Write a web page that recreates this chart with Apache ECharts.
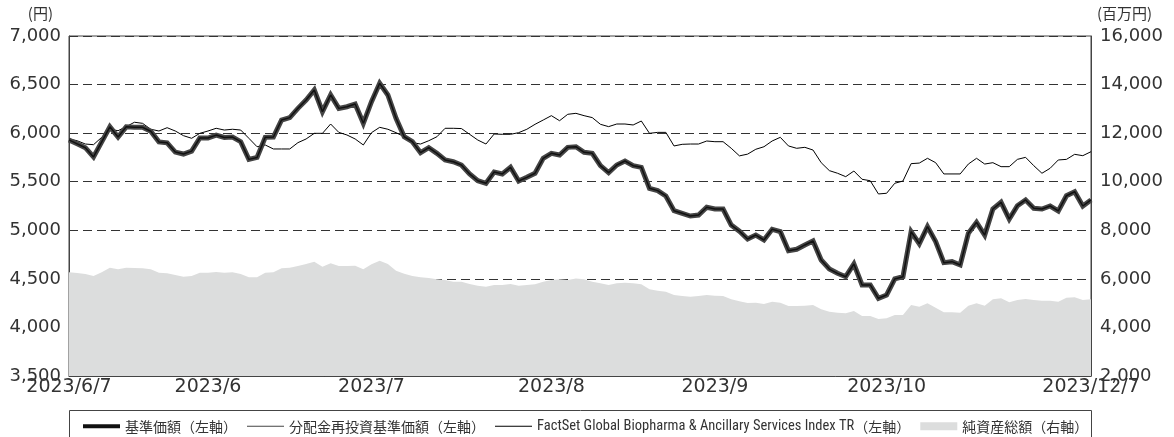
<!DOCTYPE html>
<html>
<head>
<meta charset="utf-8">
<script src="https://cdn.jsdelivr.net/npm/echarts@6/dist/echarts.min.js"></script>
<style>
  html, body { margin: 0; padding: 0; background: #fff; }
  #chart { width: 1174px; height: 437px; }
</style>
</head>
<body>
<div id="chart"></div>
<script>
// 基準価額（円）
const nav = [5930, 5890, 5850, 5755, 5910, 6065, 5960, 6065, 6060, 6060,
  6020, 5910, 5900, 5805, 5785, 5815, 5950, 5950, 5980, 5955,
  5960, 5912, 5730, 5750, 5957, 5960, 6135, 6160, 6255, 6341,
  6444, 6221, 6393, 6255, 6272, 6300, 6101, 6324, 6513, 6393,
  6153, 5963, 5912, 5799, 5850, 5792, 5724, 5706, 5672, 5580,
  5510, 5484, 5600, 5580, 5648, 5507, 5545, 5587, 5741, 5792,
  5775, 5854, 5860, 5803, 5792, 5665, 5593, 5672, 5713, 5665,
  5648, 5432, 5408, 5353, 5202, 5175, 5147, 5157, 5237, 5219,
  5219, 5054, 4990, 4910, 4951, 4900, 5010, 4986, 4790, 4804,
  4849, 4890, 4694, 4601, 4557, 4522, 4653, 4437, 4437, 4300,
  4334, 4499, 4522, 4985, 4862, 5037, 4883, 4667, 4677, 4643,
  4969, 5082, 4951, 5219, 5288, 5116, 5253, 5312, 5226, 5219,
  5250, 5199, 5356, 5397, 5250, 5312]

// 分配金再投資基準価額（分配なしのため基準価額と同じ）
const reinvestNav = nav.slice()

// FactSet Global Biopharma & Ancillary Services Index TR
const benchmark = [5940, 5922, 5888, 5881, 5957, 6040, 6025, 6067, 6112, 6101,
  6040, 6022, 6056, 6022, 5974, 5947, 5998, 6022, 6050, 6032,
  6040, 6032, 5947, 5860, 5878, 5837, 5837, 5837, 5902, 5940,
  5998, 5998, 6094, 6008, 5981, 5940, 5878, 6005, 6060, 6040,
  6005, 5963, 5902, 5888, 5922, 5963, 6050, 6050, 6047, 5988,
  5929, 5888, 5991, 5988, 5988, 6005, 6040, 6091, 6135, 6180,
  6128, 6194, 6204, 6180, 6160, 6091, 6067, 6094, 6094, 6084,
  6125, 5998, 6008, 6008, 5868, 5885, 5888, 5888, 5919, 5912,
  5912, 5844, 5766, 5784, 5834, 5860, 5919, 5957, 5868, 5844,
  5854, 5826, 5696, 5614, 5587, 5552, 5610, 5525, 5510, 5374,
  5381, 5484, 5507, 5686, 5692, 5741, 5696, 5580, 5580, 5580,
  5682, 5741, 5682, 5696, 5655, 5655, 5730, 5751, 5665, 5587,
  5638, 5724, 5730, 5782, 5768, 5809]

// 純資産総額（百万円）
const netAssets = [6269, 6240, 6199, 6117, 6269, 6460, 6393, 6460, 6446, 6433,
  6393, 6254, 6227, 6158, 6089, 6117, 6254, 6254, 6282, 6254,
  6269, 6199, 6062, 6062, 6254, 6269, 6433, 6460, 6529, 6611,
  6707, 6501, 6639, 6529, 6529, 6542, 6393, 6597, 6748, 6611,
  6336, 6213, 6117, 6062, 6034, 5981, 5952, 5884, 5884, 5787,
  5719, 5678, 5746, 5746, 5787, 5719, 5746, 5774, 5884, 5952,
  5981, 5952, 6010, 5986, 5884, 5816, 5746, 5816, 5843, 5816,
  5774, 5569, 5514, 5472, 5335, 5294, 5266, 5294, 5335, 5307,
  5294, 5157, 5073, 5006, 5019, 4964, 5060, 5019, 4881, 4881,
  4895, 4923, 4745, 4648, 4607, 4580, 4676, 4470, 4470, 4346,
  4374, 4511, 4511, 4923, 4854, 4993, 4813, 4621, 4621, 4607,
  4895, 4993, 4895, 5157, 5198, 5033, 5129, 5170, 5129, 5101,
  5101, 5060, 5225, 5239, 5129, 5157]

// x軸（営業日の並び）
const days = nav.map((v, i) => String(i))
const labelIdx = [0, 17, 37, 59, 79, 100, 125]
const labelText = ['2023/6/7', '2023/6', '2023/7', '2023/8', '2023/9', '2023/10', '2023/12/7']
const tickIdx = [17, 37, 59, 79, 100]

const names = ['基準価額（左軸）', '分配金再投資基準価額（左軸）',
  'FactSet Global Biopharma & Ancillary Services Index TR（左軸）', '純資産総額（右軸）']

const numFont = '"DejaVu Sans", "Liberation Sans", sans-serif'
const jpFont = '"Noto Sans CJK JP", sans-serif'
const narrowFont = '"Liberation Sans Narrow", "Roboto Condensed", "Noto Sans CJK JP", sans-serif'

let chart = echarts.init(document.getElementById('chart'))
let options = {
  animation: false,
  grid: {
    left: 69,
    right: 83,
    top: 36,
    bottom: 61,
    show: true,
    borderColor: '#444',
    borderWidth: 1
  },
  legend: {
    left: 83,
    top: 419,
    padding: 0,
    itemWidth: 37,
    itemHeight: 8,
    itemGap: 10,
    formatter: function (name) {
      // FactSetの英字部分は細めの書体
      if (name.indexOf('FactSet') === 0) {
        let p = name.indexOf('（')
        return '{n|' + name.slice(0, p) + '}{j|' + name.slice(p) + '}'
      }
      return '{j|' + name + '}'
    },
    textStyle: {
      fontFamily: jpFont,
      fontSize: 14,
      color: '#333',
      rich: {
        j: { fontFamily: jpFont, fontSize: 14, color: '#333' },
        n: { fontFamily: narrowFont, fontSize: 14.5, color: '#333' }
      }
    },
    data: [
      { name: names[0], icon: 'path://M0,0H37V4H0Z', itemStyle: { color: '#111', borderWidth: 0 } },
      { name: names[1], icon: 'path://M0,0H37V1.2H0Z', itemStyle: { color: '#444', borderWidth: 0 } },
      { name: names[2], icon: 'path://M0,0H37V1.2H0Z', itemStyle: { color: '#000', borderWidth: 0 } },
      { name: names[3], icon: 'path://M0,0H37V8H0Z', itemStyle: { color: '#dcdddd', borderWidth: 0 } }
    ]
  },
  graphic: [
    // 凡例の枠
    {
      type: 'rect',
      shape: { x: 69.5, y: 410.5, width: 1022, height: 40 },
      style: { fill: 'none', stroke: '#444', lineWidth: 1 },
      silent: true
    }
  ],
  xAxis: {
    type: 'category',
    boundaryGap: false,
    data: days,
    axisLine: { lineStyle: { color: '#444', width: 1 } },
    axisTick: {
      show: true,
      inside: true,
      length: 7,
      interval: (index) => tickIdx.indexOf(index) >= 0,
      lineStyle: { color: '#333' }
    },
    axisLabel: {
      interval: (index) => labelIdx.indexOf(index) >= 0,
      formatter: (value, index) => labelText[labelIdx.indexOf(index)],
      color: '#333',
      fontFamily: numFont,
      fontSize: 19,
      margin: 2,
      hideOverlap: false
    },
    splitLine: { show: false }
  },
  yAxis: [
    {
      type: 'value',
      min: 3500,
      max: 7000,
      interval: 500,
      name: '(円)',
      nameLocation: 'end',
      nameGap: 15,
      nameTextStyle: { fontFamily: jpFont, fontSize: 15, color: '#333', align: 'right', padding: [0, 16, 0, 0] },
      axisLine: { show: true, lineStyle: { color: '#444' } },
      axisTick: { show: false },
      axisLabel: {
        color: '#333',
        fontFamily: numFont,
        fontSize: 18,
        margin: 8,
        formatter: (v) => v.toLocaleString('en-US')
      },
      splitLine: {
        show: true,
        lineStyle: { color: '#333', type: [9, 5], width: 1 }
      }
    },
    {
      type: 'value',
      min: 2000,
      max: 16000,
      interval: 2000,
      name: '(百万円)',
      nameLocation: 'end',
      nameGap: 15,
      nameTextStyle: { fontFamily: jpFont, fontSize: 15, color: '#333', align: 'left', padding: [0, 0, 0, 6] },
      axisLine: { show: true, lineStyle: { color: '#444' } },
      axisTick: { show: false },
      axisLabel: {
        color: '#333',
        fontFamily: numFont,
        fontSize: 18,
        margin: 9,
        formatter: (v) => v.toLocaleString('en-US')
      },
      splitLine: { show: false }
    }
  ],
  series: [
    {
      name: names[3],
      type: 'line',
      yAxisIndex: 1,
      data: netAssets,
      symbol: 'none',
      color: '#dcdddd',
      lineStyle: { width: 0 },
      areaStyle: { color: '#dcdddd', opacity: 1 },
      z: 1
    },
    {
      name: names[2],
      type: 'line',
      data: benchmark,
      symbol: 'none',
      color: '#000',
      lineStyle: { color: '#000', width: 1 },
      z: 2
    },
    {
      name: names[0],
      type: 'line',
      data: nav,
      symbol: 'none',
      color: '#444',
      lineStyle: { color: '#454545', width: 5, join: 'miter' },
      z: 3
    },
    {
      name: names[1],
      type: 'line',
      data: reinvestNav,
      symbol: 'none',
      color: '#111',
      lineStyle: { color: '#111', width: 1.5 },
      z: 4
    }
  ]
}
chart.setOption(options)
</script>
</body>
</html>
